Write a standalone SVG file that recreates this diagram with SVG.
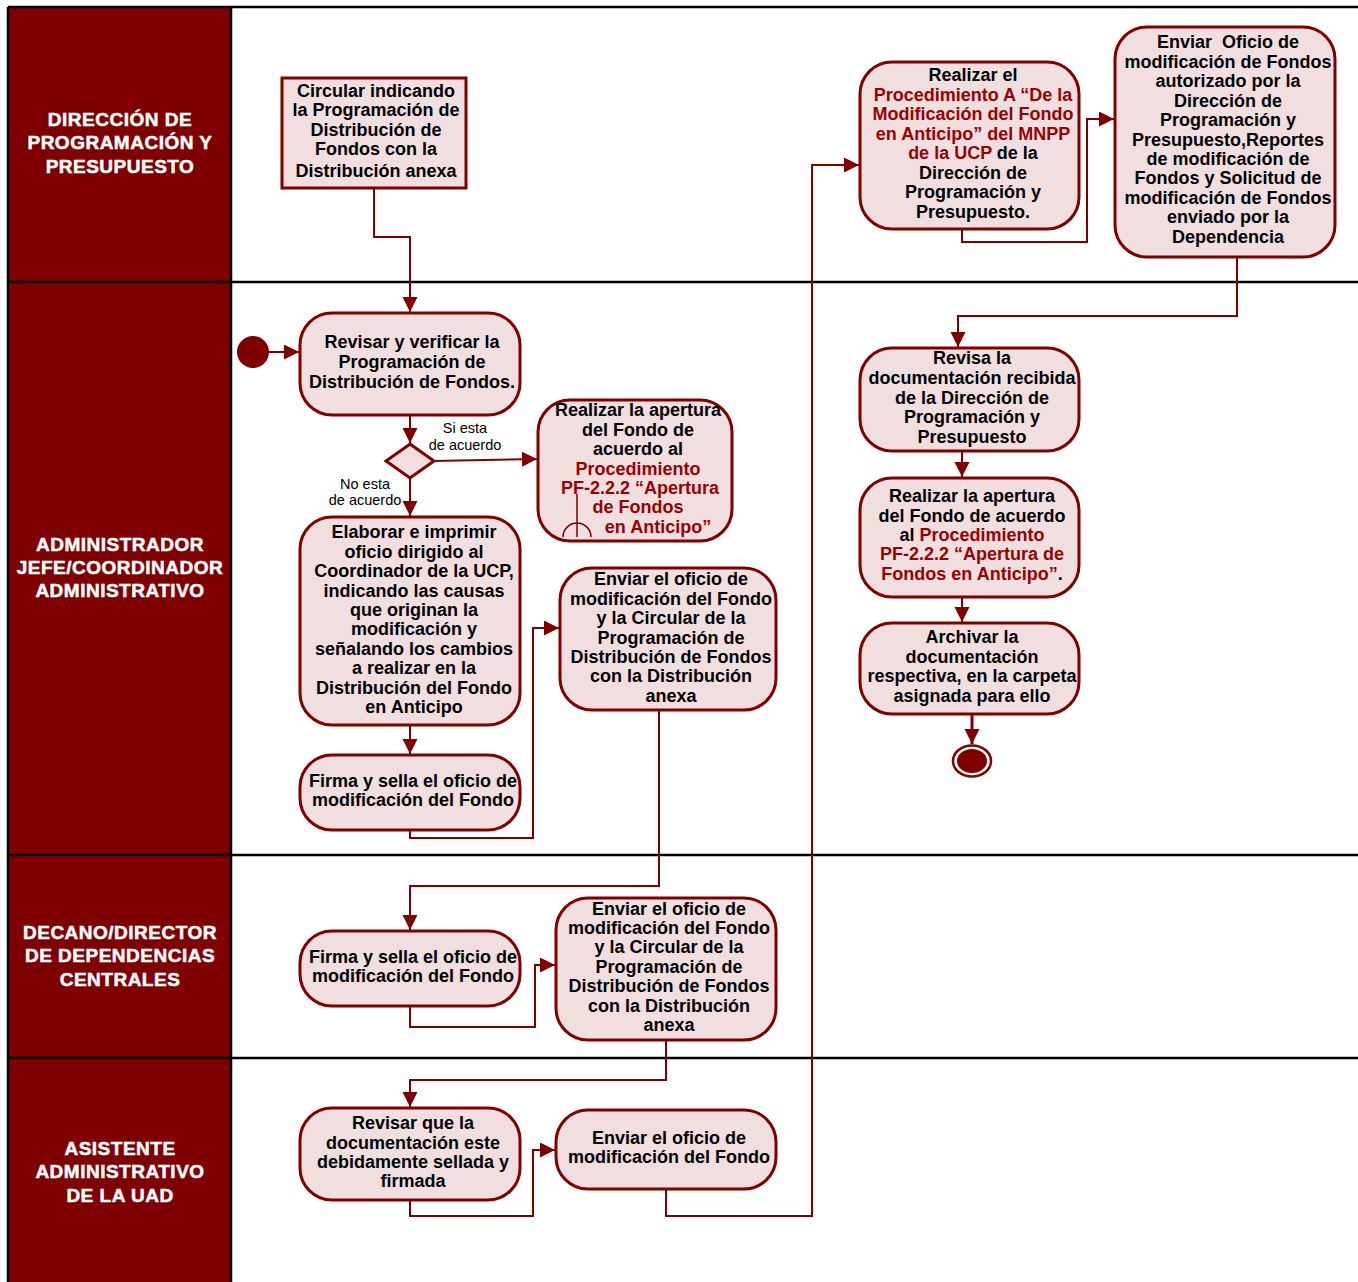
<svg xmlns="http://www.w3.org/2000/svg" width="1358" height="1282" viewBox="0 0 1358 1282">
<defs>
<marker id="arr" markerUnits="userSpaceOnUse" markerWidth="18" markerHeight="18" refX="15" refY="7.5" orient="auto"><path d="M0,0 L15,7.5 L0,15 z" fill="#800000"/></marker>
<style>
.hdr{fill:#7f0000}
.ht{font-family:"Liberation Sans",Arial,sans-serif;font-weight:bold;font-size:19px;fill:#fff;stroke:#fff;stroke-width:0.5;text-anchor:middle;letter-spacing:0.5px}
.lane{stroke:#000;stroke-width:2.5;fill:none}
.node{fill:#f1dfdf;stroke:#800000;stroke-width:3}
.t{font-family:"Liberation Sans",Arial,sans-serif;font-weight:bold;font-size:18px;fill:#000;text-anchor:middle}
.r{fill:#9b0000}
.c{fill:none;stroke:#800000;stroke-width:2;marker-end:url(#arr)}
.lbl{font-family:"Liberation Sans",Arial,sans-serif;font-size:14.5px;fill:#000;text-anchor:middle}
</style>
</defs>
<rect x="0" y="0" width="1358" height="1282" fill="#fff"/>
<g id="lanes">
<rect class="hdr" x="8" y="7" width="223" height="1275"/>
<line class="lane" x1="8" y1="7" x2="1358" y2="7"/>
<line class="lane" x1="8" y1="7" x2="8" y2="1282"/>
<line class="lane" x1="231" y1="7" x2="231" y2="1282"/>
<line class="lane" x1="8" y1="282" x2="1358" y2="282"/>
<line class="lane" x1="8" y1="855" x2="1358" y2="855"/>
<line class="lane" x1="8" y1="1058" x2="1358" y2="1058"/>
<text class="ht"><tspan x="120" y="126">DIRECCIÓN DE</tspan><tspan x="120" y="149">PROGRAMACIÓN Y</tspan><tspan x="120" y="173">PRESUPUESTO</tspan></text>
<text class="ht"><tspan x="120" y="551">ADMINISTRADOR</tspan><tspan x="120" y="574">JEFE/COORDINADOR</tspan><tspan x="120" y="597">ADMINISTRATIVO</tspan></text>
<text class="ht"><tspan x="120" y="939">DECANO/DIRECTOR</tspan><tspan x="120" y="962">DE DEPENDENCIAS</tspan><tspan x="120" y="986">CENTRALES</tspan></text>
<text class="ht"><tspan x="120" y="1155">ASISTENTE</tspan><tspan x="120" y="1178">ADMINISTRATIVO</tspan><tspan x="120" y="1202">DE LA UAD</tspan></text>
</g>
<g id="connectors">
<path class="c" d="M374,188 V237 H410 V312"/>
<path class="c" d="M269,352 H299"/>
<path class="c" d="M410,415 V443"/>
<path class="c" d="M434,461 L537,459"/>
<path class="c" d="M410,478 V516"/>
<path class="c" d="M410,725 V754"/>
<path class="c" d="M410,830 V838 H533 V628 H559"/>
<path class="c" d="M659,710 V886 H410 V930"/>
<path class="c" d="M410,1006 V1027 H535 V965 H555"/>
<path class="c" d="M666,1040 V1080 H410 V1107"/>
<path class="c" d="M410,1200 V1216 H533 V1150 H555"/>
<path class="c" d="M666,1189 V1216 H812 V165 H859"/>
<path class="c" d="M962,229 V242 H1087 V119 H1114"/>
<path class="c" d="M1237,257 V316 H958 V347"/>
<path class="c" d="M962,451 V477"/>
<path class="c" d="M962,597 V622"/>
<path class="c" d="M972,714 V744" style="stroke-width:3"/>
<text class="lbl"><tspan x="465" y="433">Si esta</tspan><tspan x="465" y="450">de acuerdo</tspan></text>
<text class="lbl"><tspan x="365" y="489">No esta</tspan><tspan x="365" y="505">de acuerdo</tspan></text>
</g>
<g id="start"><circle cx="253" cy="352" r="16" fill="#800000"/></g>
<g id="end"><ellipse cx="972" cy="761" rx="19" ry="15.5" fill="#fff" stroke="#800000" stroke-width="2.5"/><ellipse cx="972" cy="761" rx="15" ry="12" fill="#800000"/></g>
<g id="n_circular">
<rect class="node" x="282" y="78" width="184" height="110"/>
<text class="t"><tspan x="376" y="97">Circular indicando</tspan><tspan x="376" y="116">la Programación de</tspan><tspan x="376" y="136">Distribución de</tspan><tspan x="376" y="155">Fondos con la</tspan><tspan x="376" y="177">Distribución anexa</tspan></text>
</g>
<g id="n_revisar">
<rect class="node" x="300" y="313" width="220" height="102" rx="32"/>
<text class="t"><tspan x="412" y="348">Revisar y verificar la</tspan><tspan x="412" y="368">Programación de</tspan><tspan x="412" y="388">Distribución de Fondos.</tspan></text>
</g>
<g id="n_decision"><path class="node" d="M410,444 L434,461 L410,478 L386,461 z"/></g>
<g id="n_apertura1">
<rect class="node" x="538" y="400" width="194" height="141" rx="32"/>
<text class="t"><tspan x="638" y="416">Realizar la apertura</tspan><tspan x="638" y="436">del Fondo de</tspan><tspan x="638" y="455">acuerdo al</tspan><tspan class="r" x="638" y="475">Procedimiento</tspan><tspan class="r" x="640" y="494">PF-2.2.2 “Apertura</tspan><tspan class="r" x="638" y="513">de Fondos</tspan><tspan class="r" x="658" y="533">en Anticipo”</tspan></text>
<path d="M577,494 V537 M563,537 A14,14 0 0 1 591,537" fill="none" stroke="#800000" stroke-width="1.5"/>
</g>
<g id="n_elaborar">
<rect class="node" x="300" y="517" width="220" height="208" rx="32"/>
<text class="t"><tspan x="414" y="538">Elaborar e imprimir</tspan><tspan x="414" y="558">oficio dirigido al</tspan><tspan x="414" y="577">Coordinador de la UCP,</tspan><tspan x="414" y="597">indicando las causas</tspan><tspan x="414" y="616">que originan la</tspan><tspan x="414" y="635">modificación y</tspan><tspan x="414" y="655">señalando los cambios</tspan><tspan x="414" y="674">a realizar en la</tspan><tspan x="414" y="694">Distribución del Fondo</tspan><tspan x="414" y="713">en Anticipo</tspan></text>
</g>
<g id="n_firma1">
<rect class="node" x="300" y="755" width="220" height="75" rx="32"/>
<text class="t"><tspan x="413" y="787">Firma y sella el oficio de</tspan><tspan x="413" y="806">modificación del Fondo</tspan></text>
</g>
<g id="n_enviar1">
<rect class="node" x="560" y="568" width="216" height="142" rx="32"/>
<text class="t"><tspan x="671" y="585">Enviar el oficio de</tspan><tspan x="671" y="605">modificación del Fondo</tspan><tspan x="671" y="624">y la Circular de la</tspan><tspan x="671" y="644">Programación de</tspan><tspan x="671" y="663">Distribución de Fondos</tspan><tspan x="671" y="682">con la Distribución</tspan><tspan x="671" y="702">anexa</tspan></text>
</g>
<g id="n_procA">
<rect class="node" x="860" y="62" width="219" height="167" rx="32"/>
<text class="t"><tspan x="973" y="81">Realizar el</tspan><tspan class="r" x="973" y="101">Procedimiento A “De la</tspan><tspan class="r" x="973" y="120">Modificación del Fondo</tspan><tspan class="r" x="973" y="140">en Anticipo” del MNPP</tspan><tspan x="973" y="159"><tspan class="r">de la UCP</tspan> de la</tspan><tspan x="973" y="179">Dirección de</tspan><tspan x="973" y="198">Programación y</tspan><tspan x="973" y="218">Presupuesto.</tspan></text>
</g>
<g id="n_enviarOficio">
<rect class="node" x="1115" y="27" width="220" height="230" rx="32"/>
<text class="t"><tspan x="1228" y="48">Enviar&#160; Oficio de</tspan><tspan x="1228" y="68">modificación de Fondos</tspan><tspan x="1228" y="87">autorizado por la</tspan><tspan x="1228" y="107">Dirección de</tspan><tspan x="1228" y="126">Programación y</tspan><tspan x="1228" y="146">Presupuesto,Reportes</tspan><tspan x="1228" y="165">de modificación de</tspan><tspan x="1228" y="184">Fondos y Solicitud de</tspan><tspan x="1228" y="204">modificación de Fondos</tspan><tspan x="1228" y="223">enviado por la</tspan><tspan x="1228" y="243">Dependencia</tspan></text>
</g>
<g id="n_revisa">
<rect class="node" x="860" y="348" width="219" height="103" rx="32"/>
<text class="t"><tspan x="972" y="364">Revisa la</tspan><tspan x="972" y="384">documentación recibida</tspan><tspan x="972" y="404">de la Dirección de</tspan><tspan x="972" y="423">Programación y</tspan><tspan x="972" y="443">Presupuesto</tspan></text>
</g>
<g id="n_apertura2">
<rect class="node" x="860" y="478" width="219" height="119" rx="32"/>
<text class="t"><tspan x="972" y="502">Realizar la apertura</tspan><tspan x="972" y="522">del Fondo de acuerdo</tspan><tspan x="972" y="541">al <tspan class="r">Procedimiento</tspan></tspan><tspan class="r" x="972" y="560">PF-2.2.2 “Apertura de</tspan><tspan x="972" y="580"><tspan class="r">Fondos en Anticipo”</tspan>.</tspan></text>
</g>
<g id="n_archivar">
<rect class="node" x="860" y="623" width="219" height="91" rx="32"/>
<text class="t"><tspan x="972" y="643">Archivar la</tspan><tspan x="972" y="663">documentación</tspan><tspan x="972" y="682">respectiva, en la carpeta</tspan><tspan x="972" y="702">asignada para ello</tspan></text>
</g>
<g id="n_firma2">
<rect class="node" x="300" y="931" width="220" height="75" rx="32"/>
<text class="t"><tspan x="413" y="963">Firma y sella el oficio de</tspan><tspan x="413" y="982">modificación del Fondo</tspan></text>
</g>
<g id="n_enviar2">
<rect class="node" x="556" y="898" width="220" height="142" rx="32"/>
<text class="t"><tspan x="669" y="915">Enviar el oficio de</tspan><tspan x="669" y="934">modificación del Fondo</tspan><tspan x="669" y="953">y la Circular de la</tspan><tspan x="669" y="973">Programación de</tspan><tspan x="669" y="992">Distribución de Fondos</tspan><tspan x="669" y="1012">con la Distribución</tspan><tspan x="669" y="1031">anexa</tspan></text>
</g>
<g id="n_revisarQue">
<rect class="node" x="300" y="1108" width="220" height="92" rx="32"/>
<text class="t"><tspan x="413" y="1129">Revisar que la</tspan><tspan x="413" y="1149">documentación este</tspan><tspan x="413" y="1168">debidamente sellada y</tspan><tspan x="413" y="1187">firmada</tspan></text>
</g>
<g id="n_enviar3">
<rect class="node" x="556" y="1110" width="220" height="79" rx="32"/>
<text class="t"><tspan x="669" y="1144">Enviar el oficio de</tspan><tspan x="669" y="1163">modificación del Fondo</tspan></text>
</g>
</svg>
